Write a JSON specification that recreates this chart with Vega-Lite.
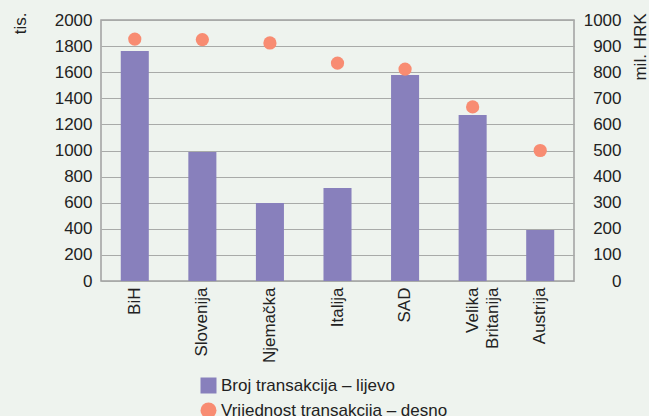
{
  "$schema": "https://vega.github.io/schema/vega-lite/v6.json",
  "width": 473,
  "height": 261,
  "autosize": {"type": "none"},
  "padding": {"left": 101, "top": 20, "right": 75, "bottom": 135},
  "background": "#eef3ee",
  "config": {
    "font": "Liberation Sans",
    "view": {"stroke": "#a0a0a0", "strokeWidth": 1.5},
    "axis": {
      "labelFont": "Liberation Sans",
      "labelFontSize": 17,
      "labelColor": "#222222",
      "titleFont": "Liberation Sans",
      "titleFontSize": 17,
      "titleFontWeight": "normal",
      "titleColor": "#222222",
      "tickSize": 0,
      "domain": false,
      "gridColor": "#a8aaa8",
      "gridWidth": 1.2,
      "gridOpacity": 1
    },
    "legend": {
      "labelFont": "Liberation Sans",
      "labelFontSize": 17,
      "labelColor": "#222222",
      "labelLimit": 0
    }
  },
  "data": {
    "values": [
      {"zemlja": "BiH", "broj": 1762, "vrijednost": 927},
      {"zemlja": "Slovenija", "broj": 988, "vrijednost": 925},
      {"zemlja": "Njemačka", "broj": 598, "vrijednost": 912},
      {"zemlja": "Italija", "broj": 713, "vrijednost": 835},
      {"zemlja": "SAD", "broj": 1578, "vrijednost": 812},
      {"zemlja": "Velika Britanija", "broj": 1272, "vrijednost": 667},
      {"zemlja": "Austrija", "broj": 391, "vrijednost": 500}
    ]
  },
  "encoding": {
    "x": {
      "field": "zemlja",
      "type": "nominal",
      "sort": null,
      "scale": {"paddingInner": 0.585, "paddingOuter": 0.2925},
      "axis": {
        "title": null,
        "labelAngle": -90,
        "labelAlign": "right",
        "labelBaseline": "middle",
        "labelPadding": 6,
        "labelLineHeight": 20,
        "labelExpr": "datum.value == 'Velika Britanija' ? ['Velika', 'Britanija'] : datum.value"
      }
    }
  },
  "layer": [
    {
      "mark": {"type": "bar", "color": "#8880bc"},
      "encoding": {
        "y": {
          "field": "broj",
          "type": "quantitative",
          "scale": {"domain": [0, 2000], "nice": false},
          "axis": {
            "title": "tis.",
            "format": "d",
            "values": [0, 200, 400, 600, 800, 1000, 1200, 1400, 1600, 1800, 2000],
            "labelPadding": 9,
            "titleAngle": 270,
            "titleAlign": "right",
            "titleBaseline": "middle",
            "titleX": -81,
            "titleY": -8
          }
        },
        "color": {
          "datum": "Broj transakcija – lijevo",
          "type": "nominal",
          "scale": {"domain": ["Broj transakcija – lijevo", "Vrijednost transakcija – desno"], "range": ["#8880bc", "#f88c72"]},
          "legend": {
            "title": null,
            "orient": "none",
            "legendX": 99,
            "legendY": 357,
            "symbolSize": 256,
            "symbolStrokeWidth": 0,
            "rowPadding": 7
          }
        }
      }
    },
    {
      "mark": {"type": "point", "filled": true, "opacity": 1, "size": 175},
      "encoding": {
        "y": {
          "field": "vrijednost",
          "type": "quantitative",
          "scale": {"domain": [0, 1000], "nice": false},
          "axis": {
            "orient": "right",
            "grid": false,
            "title": "mil. HRK",
            "format": "d",
            "values": [0, 100, 200, 300, 400, 500, 600, 700, 800, 900, 1000],
            "labelAlign": "right",
            "labelPadding": 47,
            "titleAngle": 270,
            "titleAlign": "right",
            "titleBaseline": "middle",
            "titleX": 66,
            "titleY": -7
          }
        },
        "color": {
          "datum": "Vrijednost transakcija – desno",
          "type": "nominal"
        },
        "shape": {
          "datum": "Vrijednost transakcija – desno",
          "type": "nominal",
          "scale": {"domain": ["Broj transakcija – lijevo", "Vrijednost transakcija – desno"], "range": ["square", "circle"]},
          "legend": {
            "title": null,
            "orient": "none",
            "legendX": 99,
            "legendY": 357,
            "symbolSize": 256,
            "symbolStrokeWidth": 0,
            "rowPadding": 7
          }
        }
      }
    }
  ],
  "resolve": {"scale": {"y": "independent"}}
}
